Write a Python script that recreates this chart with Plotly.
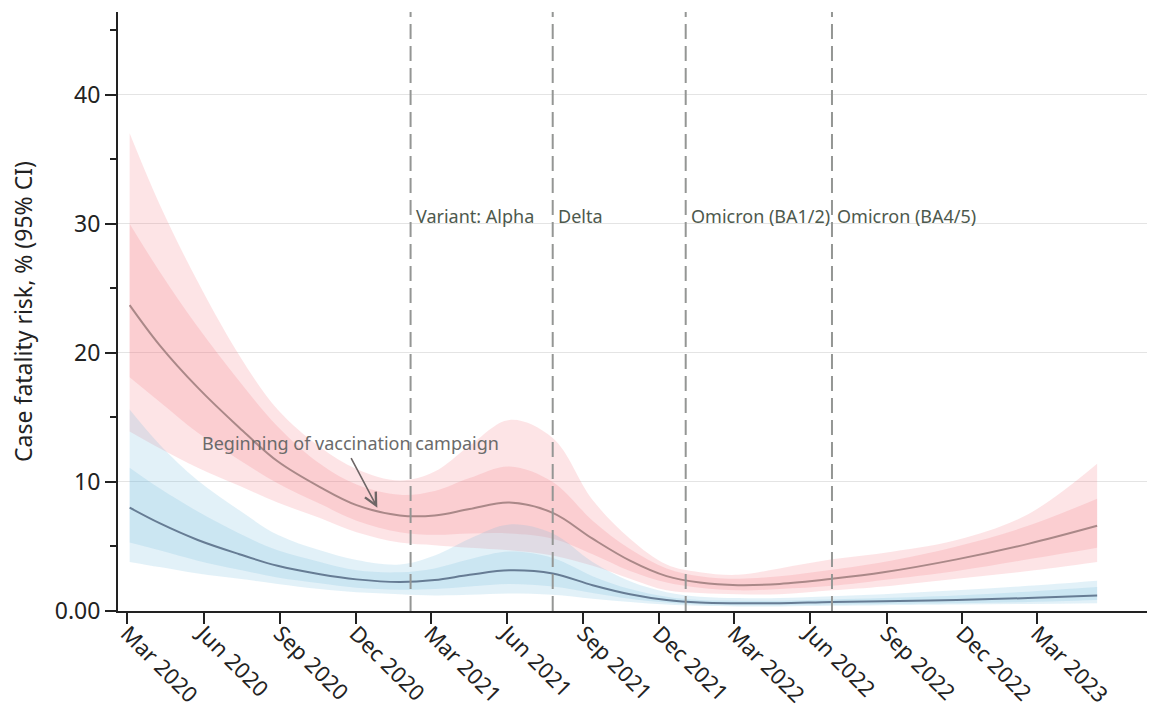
import plotly.graph_objects as go

# ---------------- data ----------------
dates = ["2020-03-04", "2020-04-09", "2020-05-25", "2020-07-14", "2020-08-29",
         "2020-10-19", "2020-12-02", "2021-01-23", "2021-03-06", "2021-04-17",
         "2021-06-04", "2021-07-26", "2021-09-12", "2021-10-27", "2021-12-10",
         "2022-01-19", "2022-03-06", "2022-04-25", "2022-06-27", "2022-08-28",
         "2022-11-24", "2023-02-18", "2023-05-12"]

red_mid = [23.7, 20.6, 17.3, 14.2, 11.6, 9.6, 8.2, 7.4, 7.4, 7.9, 8.4, 7.6,
           5.6, 3.9, 2.7, 2.2, 2.0, 2.1, 2.5, 3.0, 4.0, 5.2, 6.6]
red_in_hi = [30.0, 26.3, 22.0, 17.8, 14.3, 11.4, 9.8, 9.0, 9.3, 10.3, 11.2, 10.0,
             7.0, 4.8, 3.3, 2.7, 2.5, 2.7, 3.2, 3.8, 5.0, 6.6, 8.7]
red_in_lo = [18.1, 16.2, 13.8, 11.7, 9.9, 8.3, 7.0, 6.1, 5.9, 6.0, 6.0, 5.6,
             4.4, 3.1, 2.2, 1.8, 1.6, 1.7, 1.95, 2.4, 3.1, 4.0, 4.9]
red_out_hi = [37.0, 31.5, 25.5, 19.8, 15.6, 12.7, 11.0, 10.1, 10.8, 12.8, 14.8, 13.4,
              8.6, 5.6, 3.6, 3.0, 2.8, 3.3, 4.0, 4.5, 5.5, 7.5, 11.4]
red_out_lo = [13.9, 12.6, 11.1, 9.7, 8.4, 7.2, 6.1, 5.3, 5.1, 4.9, 4.7, 4.3,
              3.5, 2.5, 1.6, 1.4, 1.3, 1.3, 1.6, 1.9, 2.5, 3.1, 3.8]

blue_mid = [8.0, 6.8, 5.5, 4.4, 3.5, 2.85, 2.45, 2.25, 2.4, 2.8, 3.15, 2.9,
            2.0, 1.3, 0.85, 0.65, 0.6, 0.6, 0.7, 0.75, 0.85, 1.0, 1.2]
blue_in_hi = [11.1, 9.5, 7.7, 6.0, 4.7, 3.8, 3.15, 3.0, 3.3, 4.0, 4.6, 4.1,
              2.7, 1.7, 1.1, 0.85, 0.8, 0.8, 0.9, 1.0, 1.2, 1.5, 1.85]
blue_in_lo = [5.3, 4.7, 3.9, 3.2, 2.6, 2.15, 1.8, 1.65, 1.7, 1.9, 2.1, 1.9,
              1.4, 0.95, 0.65, 0.5, 0.45, 0.45, 0.5, 0.55, 0.6, 0.7, 0.85]
blue_out_hi = [15.6, 12.9, 10.1, 7.8, 5.9, 4.7, 3.95, 3.6, 4.3, 5.6, 6.7, 6.0,
               3.8, 2.3, 1.45, 1.1, 1.0, 1.0, 1.15, 1.3, 1.6, 1.95, 2.35]
blue_out_lo = [3.8, 3.4, 2.9, 2.5, 2.1, 1.7, 1.45, 1.3, 1.2, 1.25, 1.35, 1.25,
               0.95, 0.7, 0.5, 0.4, 0.35, 0.35, 0.4, 0.45, 0.5, 0.55, 0.6]

variant_dates = ["2021-02-05", "2021-07-26", "2022-01-02", "2022-06-27"]
variant_labels = ["Variant: Alpha", "Delta", "Omicron (BA1/2)", "Omicron (BA4/5)"]

vacc_date = "2020-12-27"
vacc_value = 8.0
vacc_text = "Beginning of vaccination campaign"

x_ticks = ["2020-03-01", "2020-06-01", "2020-09-01", "2020-12-01", "2021-03-01",
           "2021-06-01", "2021-09-01", "2021-12-01", "2022-03-01", "2022-06-01",
           "2022-09-01", "2022-12-01", "2023-03-01"]
y_ticks = [0, 10, 20, 30, 40]
y_tick_text = ["0.00", "10", "20", "30", "40"]
y_minor = [5, 15, 25, 35, 45]

# ---------------- figure ----------------
RED_FILL = "rgba(245,110,120,0.19)"
BLUE_FILL = "rgba(120,190,220,0.21)"
RED_LINE = "rgb(170,136,136)"
BLUE_LINE = "rgb(102,124,148)"

fig = go.Figure()


def band(lo, hi, color):
    fig.add_trace(go.Scatter(x=dates, y=lo, mode="lines", line=dict(width=0, shape="spline"),
                             hoverinfo="skip", showlegend=False))
    fig.add_trace(go.Scatter(x=dates, y=hi, mode="lines", line=dict(width=0, shape="spline"),
                             fill="tonexty", fillcolor=color, hoverinfo="skip", showlegend=False))


band(red_out_lo, red_out_hi, RED_FILL)
band(red_in_lo, red_in_hi, RED_FILL)
band(blue_out_lo, blue_out_hi, BLUE_FILL)
band(blue_in_lo, blue_in_hi, BLUE_FILL)

fig.add_trace(go.Scatter(x=dates, y=red_mid, mode="lines",
                         line=dict(color=RED_LINE, width=2, shape="spline"), showlegend=False))
fig.add_trace(go.Scatter(x=dates, y=blue_mid, mode="lines",
                         line=dict(color=BLUE_LINE, width=2, shape="spline"), showlegend=False))

for d, lab in zip(variant_dates, variant_labels):
    fig.add_shape(type="line", x0=d, x1=d, xref="x", y0=0, y1=1, yref="paper",
                  line=dict(color="rgb(148,150,148)", width=2, dash="15px,7px"), layer="above")
    fig.add_annotation(x=d, y=30.6, xref="x", yref="y", text=lab, showarrow=False,
                       xanchor="left", yanchor="middle", xshift=3,
                       font=dict(size=18, color="#4d594d"))

fig.add_annotation(x=vacc_date, y=vacc_value, xref="x", yref="y", text="",
                   showarrow=True, ax=-27, ay=-51, arrowhead=5, arrowsize=1.5,
                   arrowwidth=1.6, arrowcolor="rgb(110,102,102)")
fig.add_annotation(x=vacc_date, y=vacc_value, xref="x", yref="y", text=vacc_text,
                   showarrow=False, xanchor="center", yanchor="middle",
                   xshift=-27, yshift=65, font=dict(size=18, color="#6a6a6a"))

fig.update_layout(
    width=1150, height=712,
    margin=dict(l=118, r=3, t=12, b=101),
    paper_bgcolor="white", plot_bgcolor="white",
    font=dict(family="Noto Sans", color="#222222"),
    showlegend=False,
)

fig.update_xaxes(
    type="date", range=["2020-02-19", "2023-07-11"],
    tickmode="array", tickvals=x_ticks, tickformat="%b %Y", tickangle=45,
    ticks="outside", ticklen=11, tickwidth=2, tickcolor="#222222",
    tickfont=dict(size=22, color="#222222"), ticklabelstandoff=-12,
    showline=True, linecolor="#222222", linewidth=2,
    showgrid=False, zeroline=False, automargin=False,
)
fig.update_yaxes(
    range=[0, 46.4],
    tickmode="array", tickvals=y_ticks, ticktext=y_tick_text,
    ticks="outside", ticklen=11, tickwidth=2, tickcolor="#222222",
    tickfont=dict(size=23, color="#222222"),
    minor=dict(tickmode="array", tickvals=y_minor, ticks="outside", ticklen=6,
               tickwidth=2, tickcolor="#222222", showgrid=False),
    showline=True, linecolor="#222222", linewidth=2,
    showgrid=True, gridcolor="#e4e4e4", gridwidth=1, zeroline=False,
    title=dict(text="Case fatality risk, % (95% CI)", font=dict(size=23, color="#222222"),
               standoff=16),
    automargin=False,
)

fig.write_html("out.html", config={"displayModeBar": False},
               post_script="document.body.style.margin='0px';document.body.style.overflow='hidden';")
